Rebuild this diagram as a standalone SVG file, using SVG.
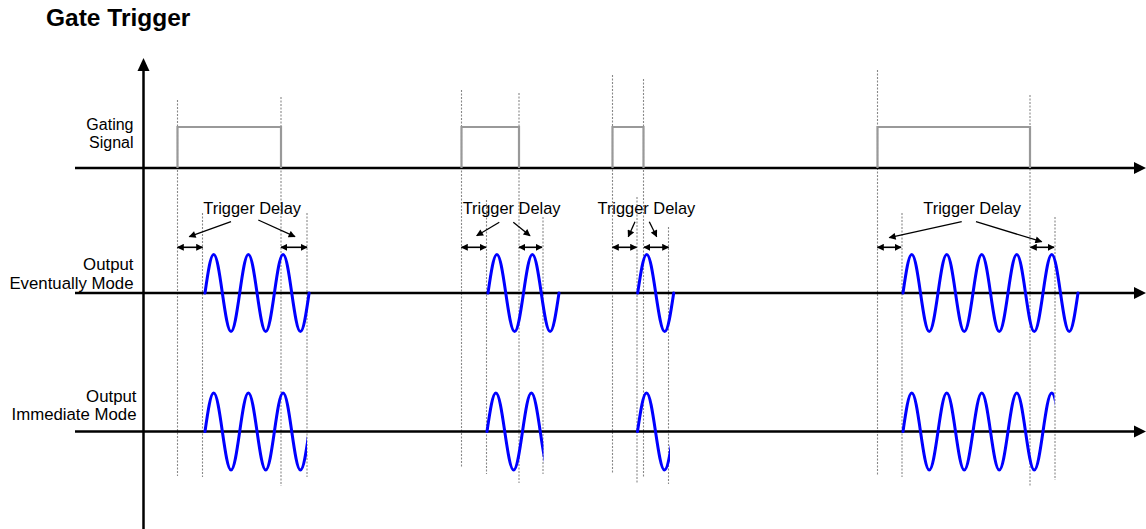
<svg xmlns="http://www.w3.org/2000/svg" xmlns:xlink="http://www.w3.org/1999/xlink" width="1146" height="529" viewBox="0 0 1146 529">
<style>
text{font-family:"Liberation Sans",Arial,sans-serif;fill:#000}
.title{font-weight:bold;font-size:24.5px}
.lbl{font-size:16px;text-anchor:end}
.lbl2{font-size:16.8px;text-anchor:end}
.td{font-size:16.4px}
.axis{stroke:#000;stroke-width:2.5;fill:none}
.dot{stroke:#888;stroke-width:1.1;stroke-dasharray:2 1.5;fill:none}
.gate{stroke:#999;stroke-width:2.2;fill:none}
.wave{stroke:#0000ff;stroke-width:3;fill:none;stroke-linecap:round}
.diag{stroke:#000;stroke-width:1.3;fill:none;marker-end:url(#ah)}
.dbl{stroke:#000;stroke-width:1.6;fill:none;marker-start:url(#dh);marker-end:url(#dh)}
</style>
<defs>
<marker id="ah" viewBox="0 0 10 10" refX="9" refY="5" markerWidth="9" markerHeight="7" markerUnits="userSpaceOnUse" orient="auto"><path d="M0,0 L10,5 L0,10 z" fill="#000"/></marker>
<marker id="dh" viewBox="0 0 10 10" refX="9" refY="5" markerWidth="7" markerHeight="7" markerUnits="userSpaceOnUse" orient="auto-start-reverse"><path d="M0,0 L10,5 L0,10 z" fill="#000"/></marker>
<path id="w1" d="M0,0 c2.829,-19.72 5.536,-38.5 8.675,-38.5 s5.846,18.78 8.675,38.5 s5.536,38.5 8.675,38.5 s5.846,-18.78 8.675,-38.5 s5.536,-38.5 8.675,-38.5 s5.846,18.78 8.675,38.5 s5.536,38.5 8.675,38.5 s5.846,-18.78 8.675,-38.5 s5.536,-38.5 8.675,-38.5 s5.846,18.78 8.675,38.5 s5.536,38.5 8.675,38.5 s5.846,-18.78 8.675,-38.5"/>
<path id="w2" d="M0,0 c2.894,-19.72 5.663,-38.5 8.875,-38.5 s5.981,18.78 8.875,38.5 s5.663,38.5 8.875,38.5 s5.981,-18.78 8.875,-38.5 s5.663,-38.5 8.875,-38.5 s5.981,18.78 8.875,38.5 s5.663,38.5 8.875,38.5 s5.981,-18.78 8.875,-38.5"/>
<path id="w3" d="M0,0 c2.935,-19.72 5.743,-38.5 9,-38.5 s6.065,18.78 9,38.5 s5.743,38.5 9,38.5 s6.065,-18.78 9,-38.5"/>
<path id="w4" d="M0,0 c2.853,-19.72 5.583,-38.5 8.75,-38.5 s5.897,18.78 8.75,38.5 s5.583,38.5 8.75,38.5 s5.897,-18.78 8.75,-38.5 s5.583,-38.5 8.75,-38.5 s5.897,18.78 8.75,38.5 s5.583,38.5 8.75,38.5 s5.897,-18.78 8.75,-38.5 s5.583,-38.5 8.75,-38.5 s5.897,18.78 8.75,38.5 s5.583,38.5 8.75,38.5 s5.897,-18.78 8.75,-38.5 s5.583,-38.5 8.75,-38.5 s5.897,18.78 8.75,38.5 s5.583,38.5 8.75,38.5 s5.897,-18.78 8.75,-38.5 s5.583,-38.5 8.75,-38.5 s5.897,18.78 8.75,38.5 s5.583,38.5 8.75,38.5 s5.897,-18.78 8.75,-38.5"/>
<clipPath id="c1" clipPathUnits="userSpaceOnUse"><rect x="150" y="370" width="157" height="120"/></clipPath>
<clipPath id="c2" clipPathUnits="userSpaceOnUse"><rect x="450" y="370" width="93.5" height="120"/></clipPath>
<clipPath id="c3" clipPathUnits="userSpaceOnUse"><rect x="600" y="370" width="70" height="120"/></clipPath>
<clipPath id="c4" clipPathUnits="userSpaceOnUse"><rect x="880" y="370" width="174.5" height="120"/></clipPath>
</defs>

<text id="title" class="title" x="46" y="26">Gate Trigger</text>

<g id="guides">
<line class="dot" x1="177.5" y1="100" x2="177.5" y2="476"/>
<line class="dot" x1="202.5" y1="213" x2="202.5" y2="477"/>
<line class="dot" x1="281" y1="97" x2="281" y2="486"/>
<line class="dot" x1="307" y1="213" x2="307" y2="477"/>
<line class="dot" x1="461.5" y1="90" x2="461.5" y2="468"/>
<line class="dot" x1="486.5" y1="200" x2="486.5" y2="474"/>
<line class="dot" x1="519" y1="93" x2="519" y2="483"/>
<line class="dot" x1="543" y1="217" x2="543" y2="474"/>
<line class="dot" x1="612.5" y1="75" x2="612.5" y2="474"/>
<line class="dot" x1="637" y1="197" x2="637" y2="483"/>
<line class="dot" x1="643.5" y1="79" x2="643.5" y2="478"/>
<line class="dot" x1="668.5" y1="227" x2="668.5" y2="484"/>
<line class="dot" x1="877.5" y1="70" x2="877.5" y2="476"/>
<line class="dot" x1="902" y1="213" x2="902" y2="477"/>
<line class="dot" x1="1030" y1="95" x2="1030" y2="486"/>
<line class="dot" x1="1055" y1="217" x2="1055" y2="480"/>
</g>

<g id="axes">
<line class="axis" x1="143.5" y1="529" x2="143.5" y2="70"/>
<polygon points="143.5,58 137.5,71 149.5,71" fill="#000"/>
<line class="axis" x1="75" y1="168" x2="1135" y2="168"/>
<polygon points="1146,168 1134,162 1134,174" fill="#000"/>
<line class="axis" x1="75" y1="293" x2="1135" y2="293"/>
<polygon points="1146,293 1134,287 1134,299" fill="#000"/>
<line class="axis" x1="75" y1="431.5" x2="1135" y2="431.5"/>
<polygon points="1146,431.5 1134,425.5 1134,437.5" fill="#000"/>
</g>

<g id="label-gating">
<text class="lbl" x="133.5" y="130">Gating</text>
<text class="lbl" x="133.5" y="148">Signal</text>
</g>
<g id="label-eventually">
<text class="lbl2" x="133.5" y="270">Output</text>
<text class="lbl2" x="133.5" y="288.5">Eventually Mode</text>
</g>
<g id="label-immediate">
<text class="lbl2" x="136.5" y="402">Output</text>
<text class="lbl2" x="136.5" y="420">Immediate Mode</text>
</g>

<g id="gating-signal">
<path class="gate" d="M177.5,168 V127 H281 V168"/>
<path class="gate" d="M461.5,168 V127 H519 V168"/>
<path class="gate" d="M612.5,168 V127 H643.5 V168"/>
<path class="gate" d="M877.5,168 V127 H1030 V168"/>
</g>

<g id="output-eventually">
<use xlink:href="#w1" href="#w1" class="wave" x="205" y="293"/>
<use xlink:href="#w2" href="#w2" class="wave" x="488" y="293"/>
<use xlink:href="#w3" href="#w3" class="wave" x="637.7" y="293"/>
<use xlink:href="#w4" href="#w4" class="wave" x="903" y="293"/>
</g>

<g id="output-immediate">
<g clip-path="url(#c1)"><use xlink:href="#w1" href="#w1" class="wave" x="205" y="431.5"/></g>
<g clip-path="url(#c2)"><use xlink:href="#w2" href="#w2" class="wave" x="487" y="431.5"/></g>
<g clip-path="url(#c3)"><use xlink:href="#w3" href="#w3" class="wave" x="637.5" y="431.5"/></g>
<g clip-path="url(#c4)"><use xlink:href="#w4" href="#w4" class="wave" x="903" y="431.5"/></g>
</g>

<g id="delay-labels">
<text class="td" x="203.3" y="214">Trigger Delay</text>
<text class="td" x="462.7" y="214">Trigger Delay</text>
<text class="td" x="597.5" y="214">Trigger Delay</text>
<text class="td" x="923.3" y="214">Trigger Delay</text>
</g>

<g id="connectors">
<line class="diag" x1="231" y1="221.7" x2="189.3" y2="236.7"/>
<line class="diag" x1="258.3" y1="220" x2="295" y2="236.7"/>
<line class="diag" x1="499.3" y1="222.3" x2="476.7" y2="235.7"/>
<line class="diag" x1="513.3" y1="222.3" x2="530" y2="235.7"/>
<line class="diag" x1="635" y1="221.7" x2="628.3" y2="236.7"/>
<line class="diag" x1="649.3" y1="221.7" x2="656.7" y2="236.7"/>
<line class="diag" x1="961.7" y1="221.7" x2="889.3" y2="237.7"/>
<line class="diag" x1="976" y1="221.7" x2="1041.7" y2="241.7"/>
<line class="dbl" x1="177.5" y1="247.3" x2="202.5" y2="247.3"/>
<line class="dbl" x1="281" y1="247.3" x2="307" y2="247.3"/>
<line class="dbl" x1="461.5" y1="247.3" x2="486" y2="247.3"/>
<line class="dbl" x1="519" y1="247.3" x2="542" y2="247.3"/>
<line class="dbl" x1="612.5" y1="247.3" x2="636.5" y2="247.3"/>
<line class="dbl" x1="644" y1="247.3" x2="668.5" y2="247.3"/>
<line class="dbl" x1="877.5" y1="247.3" x2="901" y2="247.3"/>
<line class="dbl" x1="1030.5" y1="247.3" x2="1054" y2="247.3"/>
</g>
</svg>
